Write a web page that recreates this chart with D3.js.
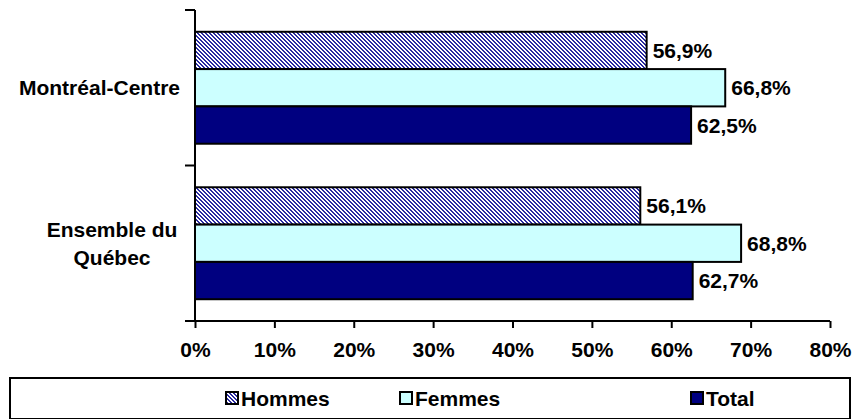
<!DOCTYPE html>
<html>
<head>
<meta charset="utf-8">
<script src="https://cdn.jsdelivr.net/npm/d3@7/dist/d3.min.js"></script>
<style>
  html, body { margin: 0; padding: 0; background: #fff; }
  svg { display: block; font-family: "Liberation Sans", Arial, sans-serif; font-weight: bold; }
</style>
</head>
<body>
<svg id="chart" width="859" height="419"></svg>
<script>
// Regions shown on the vertical axis (each label may span several lines)
const regions = [["Montréal-Centre"], ["Ensemble du", "Québec"]];
const regionKeys = ["Montréal-Centre", "Ensemble du Québec"];
// Series, in drawing order within each region
const seriesNames = ["Hommes", "Femmes", "Total"];
const hommes = [56.9, 56.1];
const femmes = [66.8, 68.8];
const total = [62.5, 62.7];
const xTicks = [0, 10, 20, 30, 40, 50, 60, 70, 80];

const values = [hommes, femmes, total];
const fills = ["url(#hatch)", "#CCFFFF", "#000080"];
const FS = 21;

const svg = d3.select("#chart");
const plot = { left: 195, right: 830, top: 10, bottom: 321 };

// Fine diagonal staircase hatch for the Hommes series
const defs = svg.append("defs");
const pat = defs.append("pattern")
  .attr("id", "hatch")
  .attr("patternUnits", "userSpaceOnUse")
  .attr("width", 4).attr("height", 4);
pat.append("rect").attr("width", 4).attr("height", 4).attr("fill", "#ffffff");
for (let r = 0; r < 4; r++) {
  for (let k = 0; k < 2; k++) {
    pat.append("rect")
      .attr("x", (r + k) % 4).attr("y", r)
      .attr("width", 1).attr("height", 1)
      .attr("fill", "#2a2aa0");
  }
}

const x = d3.scaleLinear().domain([0, 80]).range([plot.left, plot.right]);
const y = d3.scaleBand().domain(regionKeys).range([plot.top, plot.bottom]).paddingInner(0.28).paddingOuter(0.14);
const ySub = d3.scaleBand().domain(seriesNames).range([0, y.bandwidth()]);

// Bars with value labels
regionKeys.forEach((r, ri) => {
  seriesNames.forEach((s, si) => {
    const v = values[si][ri];
    const y0 = y(r) + ySub(s);
    svg.append("rect")
      .attr("x", x(0)).attr("y", y0)
      .attr("width", x(v) - x(0)).attr("height", ySub.bandwidth())
      .attr("fill", fills[si])
      .attr("stroke", "#000").attr("stroke-width", 2);
    svg.append("text")
      .attr("x", x(v) + 6).attr("y", y0 + ySub.bandwidth() / 2)
      .attr("dy", "0.36em")
      .attr("font-size", FS)
      .text(v.toFixed(1).replace(".", ",") + "%");
  });
});

// Horizontal axis
const xAxis = svg.append("g").attr("transform", `translate(0,${plot.bottom})`)
  .call(d3.axisBottom(x).tickValues(xTicks).tickSize(7).tickPadding(14).tickFormat(d => d + "%"));
xAxis.select(".domain").attr("stroke", "#000").attr("stroke-width", 2).attr("d", `M${plot.left},0H${plot.right}`);
xAxis.selectAll(".tick line").attr("stroke", "#000").attr("stroke-width", 2);
xAxis.selectAll(".tick text").attr("font-size", FS).attr("font-weight", "bold").attr("fill", "#000")
  .attr("font-family", "Liberation Sans, Arial, sans-serif");

// Vertical axis with boundary ticks between regions
const yAxisG = svg.append("g");
yAxisG.append("line")
  .attr("x1", plot.left).attr("x2", plot.left)
  .attr("y1", plot.top).attr("y2", plot.bottom)
  .attr("stroke", "#000").attr("stroke-width", 2);
const boundaries = [plot.top, (plot.top + plot.bottom) / 2, plot.bottom];
yAxisG.selectAll("line.b").data(boundaries).enter().append("line")
  .attr("class", "b")
  .attr("x1", plot.left - 10).attr("x2", plot.left)
  .attr("y1", d => d).attr("y2", d => d)
  .attr("stroke", "#000").attr("stroke-width", 2);

// Region labels
regions.forEach((lines, ri) => {
  const cy = y(regionKeys[ri]) + y.bandwidth() / 2;
  const lh = 28;
  const t = svg.append("text")
    .attr("font-size", FS)
    .attr("text-anchor", lines.length > 1 ? "middle" : "end");
  lines.forEach((ln, li) => {
    t.append("tspan")
      .attr("x", lines.length > 1 ? 112 : 180)
      .attr("y", cy + (li - (lines.length - 1) / 2) * lh)
      .attr("dy", "0.36em")
      .text(ln);
  });
});

// Legend
const lg = svg.append("g");
lg.append("rect").attr("x", 10).attr("y", 378).attr("width", 840).attr("height", 41)
  .attr("fill", "#fff").attr("stroke", "#000").attr("stroke-width", 2);
const legendX = [226, 400, 691];
seriesNames.forEach((s, i) => {
  lg.append("rect").attr("x", legendX[i]).attr("y", 392).attr("width", 12).attr("height", 12)
    .attr("fill", fills[i]).attr("stroke", "#000").attr("stroke-width", 2);
  lg.append("text").attr("x", legendX[i] + 15).attr("y", 398).attr("dy", "0.36em")
    .attr("font-size", FS).text(s);
});
</script>
</body>
</html>
